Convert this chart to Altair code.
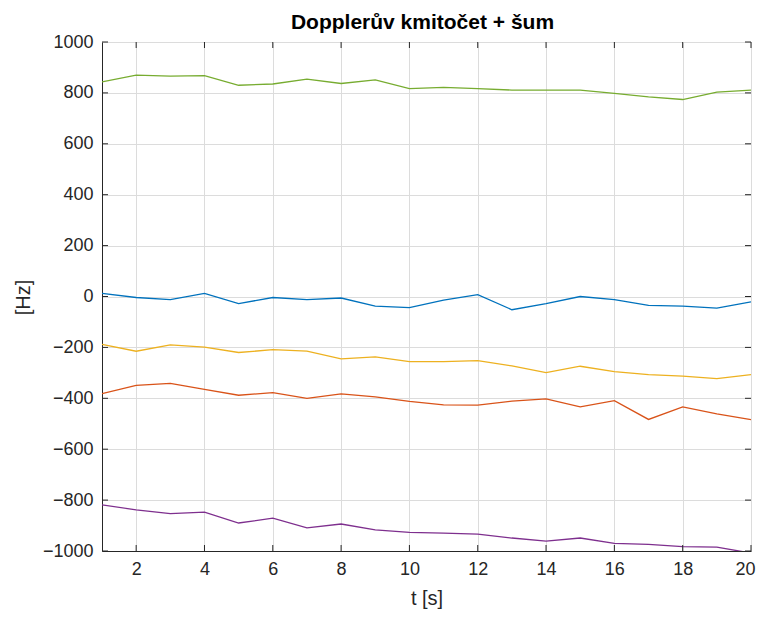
import altair as alt
import pandas as pd

t = list(range(1, 21))
s_blue = [12, -4, -12, 12, -28, -4, -12, -6, -38, -44, -14, 7, -52, -28, 0, -12, -35, -38, -46, -21]
s_orange = [-382, -349, -341, -365, -388, -378, -400, -383, -394, -412, -426, -427, -411, -402, -434, -409, -483, -434, -461, -484]
s_yellow = [-188, -215, -190, -199, -220, -209, -215, -245, -237, -256, -256, -252, -273, -299, -274, -295, -307, -313, -323, -307]
s_purple = [-819, -838, -853, -847, -890, -871, -909, -894, -917, -927, -930, -934, -949, -961, -949, -970, -974, -983, -985, -1008]
s_green = [843, 870, 866, 868, 830, 835, 854, 837, 851, 817, 822, 817, 811, 811, 811, 798, 784, 774, 803, 811]

names = ["s1", "s2", "s3", "s4", "s5"]
colors = ["#0072BD", "#D95319", "#EDB120", "#7E2F8E", "#77AC30"]
series = [s_blue, s_orange, s_yellow, s_purple, s_green]

x_ticks = [2, 4, 6, 8, 10, 12, 14, 16, 18, 20]
y_ticks = [-1000, -800, -600, -400, -200, 0, 200, 400, 600, 800, 1000]

rows = []
for n, vals in zip(names, series):
    for ti, v in zip(t, vals):
        rows.append({"t": ti, "f": v, "s": n})
df = pd.DataFrame(rows)

W, H = 649, 509
AX = "#262626"
FONT = "Liberation Sans"
common = dict(labelFont=FONT, titleFont=FONT, labelFontSize=18, labelColor=AX,
              titleColor=AX, titleFontSize=20, titleFontWeight="normal",
              domainColor=AX, domainWidth=1, gridColor="#dcdcdc", gridWidth=1,
              grid=True, tickSize=0, format="d", labelPadding=9)

xscale = alt.Scale(domain=[1, 20], nice=False, zero=False)
yscale = alt.Scale(domain=[-1000, 1000], nice=False, zero=False)

lines = alt.Chart(df).mark_line(strokeWidth=1.3, clip=True).encode(
    x=alt.X("t:Q", scale=xscale,
            axis=alt.Axis(values=x_ticks, title="t [s]", titleY=53,
                          titleBaseline="alphabetic", labelFlush=True,
                          labelFlushOffset=4, **common)),
    y=alt.Y("f:Q", scale=yscale,
            axis=alt.Axis(values=y_ticks, title="[Hz]", titleX=-79, titleY=255,
                          titleAngle=-90, titleAlign="center",
                          titleBaseline="middle", labelFlush=False, **common)),
    color=alt.Color("s:N", scale=alt.Scale(domain=names, range=colors), legend=None),
    detail="s:N",
)

xt = pd.DataFrame({"t": x_ticks})
yt = pd.DataFrame({"f": y_ticks})

tick_b = alt.Chart(xt).mark_rule(color=AX, strokeWidth=1).encode(
    x=alt.X("t:Q", scale=xscale), y=alt.value(H), y2=alt.value(H - 6))
tick_t = alt.Chart(xt).mark_rule(color=AX, strokeWidth=1).encode(
    x=alt.X("t:Q", scale=xscale), y=alt.value(0), y2=alt.value(6))
tick_l = alt.Chart(yt).mark_rule(color=AX, strokeWidth=1).encode(
    y=alt.Y("f:Q", scale=yscale), x=alt.value(0), x2=alt.value(6))
tick_r = alt.Chart(yt).mark_rule(color=AX, strokeWidth=1).encode(
    y=alt.Y("f:Q", scale=yscale), x=alt.value(W), x2=alt.value(W - 6))

chart = alt.layer(lines, tick_b, tick_t, tick_l, tick_r).properties(
    width=W, height=H,
    title=alt.TitleParams("Dopplerův kmitočet + šum", fontSize=21, fontWeight="bold",
                          font=FONT, color="#000000", anchor="middle", offset=0, dx=-4),
    autosize=alt.AutoSizeParams(type="none"),
    padding={"left": 94, "top": 34, "right": 5, "bottom": 58},
).configure_view(
    stroke=AX, strokeWidth=1
).configure(background="white")

chart.save("out.html", embed_options={"renderer": "svg", "actions": False})
